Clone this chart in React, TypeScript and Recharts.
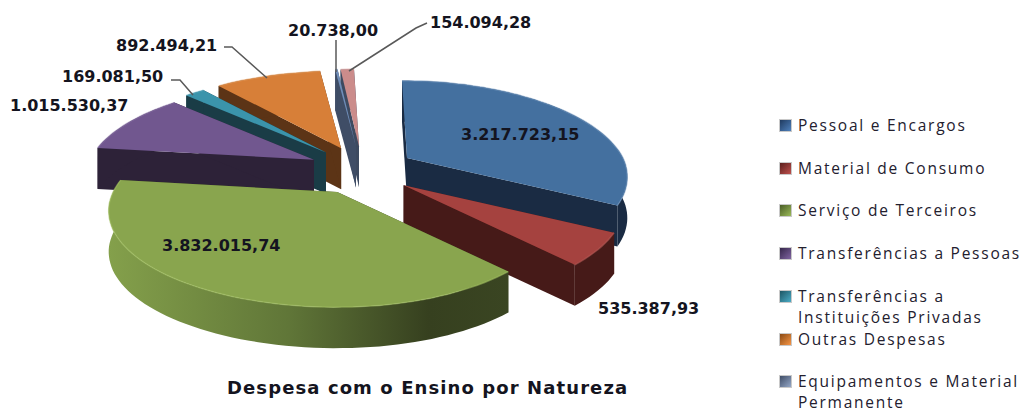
import React from "react";
import { PieChart, Pie, Legend } from "recharts";

// clockwise from the top
const categories = [
  "Pessoal e Encargos",
  "Material de Consumo",
  "Serviço de Terceiros",
  "Transferências a Pessoas",
  "Transferências a Instituições Privadas",
  "Outras Despesas",
  "Equipamentos e Material Permanente",
  "Outros",
];
const values = [3217723.15, 535387.93, 3832015.74, 1015530.37, 169081.5, 892494.21, 20738.0, 154094.28];
const valueLabels = [
  "3.217.723,15",
  "535.387,93",
  "3.832.015,74",
  "1.015.530,37",
  "169.081,50",
  "892.494,21",
  "20.738,00",
  "154.094,28",
];
const topColors = ["#44709F", "#A5423F", "#89A54E", "#71578F", "#3B94AB", "#D77F38", "#6F8DB8", "#CB8C8B"];
const wallColors = ["#1A2B43", "#461A18", "url(#greenWall)", "#2D2238", "#1A3C46", "#5C3416", "#3F4D66", "#3D4A60"];
const rimColors = ["#6E94BE", "#BE5F5B", "#A3C063", "#8871A6", "#56AAC0", "#E59A5A", "#8DA6CC", "#DDA5A4"];

const legendRows = [
  ["Pessoal e Encargos"],
  ["Material de Consumo"],
  ["Serviço de Terceiros"],
  ["Transferências a Pessoas"],
  ["Transferências a", "Instituições Privadas"],
  ["Outras Despesas"],
  ["Equipamentos e Material", "Permanente"],
];
const legendSwatches = [
  ["#1F3A5F", "#4F81BD"],
  ["#5A1F1D", "#C0504D"],
  ["#4A5D27", "#9BBB59"],
  ["#35264A", "#8064A2"],
  ["#1D5563", "#4BACC6"],
  ["#8A4A14", "#F79646"],
  ["#3F4D66", "#95A8C8"],
];

const pieData = categories.map((name, i) => ({ name, value: values[i], fill: topColors[i], idx: i }));
const pieDataReversed = [...pieData].reverse();

const FRONT = [0, 1, 2];

// fake 3D: explosion distance, tilt, perspective and wall height
const CX = 361.6;
const CY = 170.5;
const RADIUS = 222;
const RADIUS_RIGHT = 216;
const RADIUS_LEFT = 224;
const BACK_LEAN = 5;
const EXPLODE_X = 53;
const EXPLODE_Y = 24.2;
const TILT = 92.5 / 222;
const PERSP = 0.197;
const DEPTH = 41;

// text anchor point (left end, middle) and leader line per slice
const labelSpots: { x: number; y: number; line?: number[][] }[] = [
  { x: 461, y: 134 },
  { x: 598, y: 308 },
  { x: 162, y: 245 },
  { x: 10, y: 105 },
  { x: 62, y: 76, line: [[171, 80], [180, 80], [193, 95]] },
  { x: 116, y: 45, line: [[224, 47], [232, 47], [267, 78]] },
  { x: 288, y: 30, line: [[336, 40], [336, 72]] },
  { x: 430, y: 22, line: [[427, 23], [416, 28], [349, 71]] },
];

function project(theta: number, ax: number, ay: number) {
  const u = Math.sin(theta);
  const v = -Math.cos(theta);
  const s = 1 / (1 - PERSP * v);
  const rx = u >= 0 ? RADIUS_RIGHT : RADIUS_LEFT;
  const lean = u >= 0 && v < 0 ? BACK_LEAN * v : 0;
  return [ax + rx * u * s + lean, ay + RADIUS * TILT * v * s];
}

const toPath = (pts: number[][], close = true) =>
  "M" + pts.map((p) => `${p[0].toFixed(1)},${p[1].toFixed(1)}`).join("L") + (close ? "Z" : "");

function makeShape(layer: "back" | "front") {
  return function SliceShape(props: any) {
    const idx: number = props.idx ?? props.payload?.idx;
    const isFront = FRONT.includes(idx);
    if ((layer === "front") !== isFront) return <g />;

    // library angles are counter-clockwise from +x, here clockwise from the top
    const a = 90 - Math.max(props.startAngle, props.endAngle);
    const b = 90 - Math.min(props.startAngle, props.endAngle);
    const mid = (((a + b) / 2) * Math.PI) / 180;
    const ax = props.cx + Math.sin(mid) * EXPLODE_X;
    const ay = props.cy - Math.cos(mid) * EXPLODE_Y;

    const steps = Math.max(2, Math.ceil((b - a) / 2));
    const arc: number[][] = [];
    for (let i = 0; i <= steps; i++) {
      arc.push(project(((a + ((b - a) * i) / steps) * Math.PI) / 180, ax, ay));
    }
    const down = (p: number[]) => [p[0], p[1] + DEPTH];
    const first = arc[0];
    const last = arc[arc.length - 1];
    const apex = [ax, ay];
    const wall = wallColors[idx];
    const flatWall = wall.startsWith("url") ? "#36401F" : wall;

    return (
      <g>
        <defs>
          <linearGradient id="greenWall" x1="0" y1="0" x2="1" y2="0">
            <stop offset="0" stopColor="#84A04B" />
            <stop offset="0.45" stopColor="#607638" />
            <stop offset="0.8" stopColor="#36401F" />
            <stop offset="1" stopColor="#3A4522" />
          </linearGradient>
        </defs>
        <path d={toPath([apex, first, down(first), down(apex)])} fill={flatWall} />
        <path d={toPath([apex, last, down(last), down(apex)])} fill={flatWall} />
        <path d={toPath([...arc, ...arc.map(down).reverse()])} fill={wall} />
        <path d={toPath([apex, ...arc])} fill={topColors[idx]} />
        <path d={toPath(arc, false)} fill="none" stroke={rimColors[idx]} strokeWidth={1.5} strokeOpacity={0.55} />
      </g>
    );
  };
}

const BackShape = makeShape("back");
const FrontShape = makeShape("front");

function renderLabel(props: any) {
  const i: number = props.idx ?? props.payload?.idx ?? props.index;
  const spot = labelSpots[i];
  return (
    <g key={`label-${i}`}>
      {spot.line && (
        <polyline
          points={spot.line.map((p) => p.join(",")).join(" ")}
          fill="none"
          stroke="#595959"
          strokeWidth={1.5}
        />
      )}
      <text
        x={spot.x}
        y={spot.y}
        dominantBaseline="central"
        fontFamily="DejaVu Sans"
        fontWeight="bold"
        fontSize={16}
        fill="#141420"
      >
        {valueLabels[i]}
      </text>
    </g>
  );
}

function LegendBox() {
  return (
    <div style={{ position: "relative", width: 249, height: 301 }}>
      {legendRows.map((lines, i) => (
        <div key={i} style={{ position: "absolute", left: 0, top: 42.7 * i }}>
          <span
            style={{
              position: "absolute",
              left: 1,
              top: 6,
              width: 13,
              height: 13,
              background: `linear-gradient(135deg, ${legendSwatches[i][0]}, ${legendSwatches[i][1]})`,
              border: "1px solid #C9C9C9",
              boxSizing: "border-box",
            }}
          />
          {lines.map((line, j) => (
            <div
              key={j}
              style={{
                position: "absolute",
                left: 20,
                top: 3 + j * 21,
                whiteSpace: "nowrap",
                fontFamily: "Open Sans",
                fontSize: 15.5,
                lineHeight: "18px",
                letterSpacing: 1.75,
                color: "#23202E",
              }}
            >
              {line}
            </div>
          ))}
        </div>
      ))}
    </div>
  );
}

export default function App() {
  return (
    <div style={{ position: "absolute", left: 0, top: 0, width: 1027, height: 414, overflow: "hidden", background: "#fff" }}>
      <PieChart width={1027} height={414} margin={{ top: 0, right: 0, bottom: 0, left: 0 }}>
        {/* two pies so the front slices paint over the back ones */}
        <Pie
          data={pieDataReversed}
          dataKey="value"
          nameKey="name"
          cx={CX}
          cy={CY}
          outerRadius={RADIUS}
          startAngle={90}
          endAngle={450}
          stroke="none"
          shape={BackShape}
          isAnimationActive={false}
        />
        <Pie
          data={pieData}
          dataKey="value"
          nameKey="name"
          cx={CX}
          cy={CY}
          outerRadius={RADIUS}
          startAngle={90}
          endAngle={-270}
          stroke="none"
          shape={FrontShape}
          label={renderLabel}
          labelLine={false}
          isAnimationActive={false}
        />
        <Legend content={<LegendBox />} wrapperStyle={{ position: "absolute", left: 778, top: 113, width: 249, bottom: "auto" }} />
      </PieChart>
      <div
        style={{
          position: "absolute",
          left: 227,
          top: 376,
          whiteSpace: "nowrap",
          fontFamily: "DejaVu Sans",
          fontWeight: "bold",
          fontSize: 18,
          lineHeight: "24px",
          letterSpacing: 1.1,
          color: "#141420",
        }}
      >
        Despesa com o Ensino por Natureza
      </div>
    </div>
  );
}
